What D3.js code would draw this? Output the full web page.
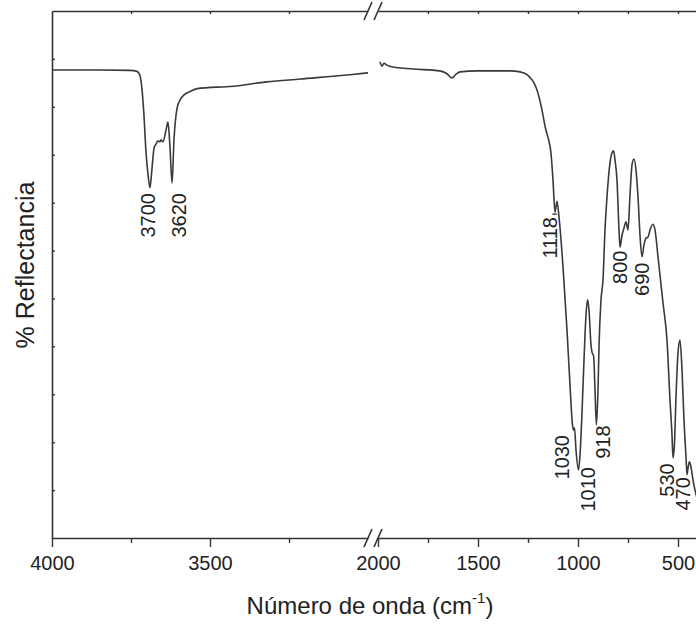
<!DOCTYPE html>
<html><head><meta charset="utf-8">
<script src="https://cdn.jsdelivr.net/npm/d3@7"></script>
<style>body{margin:0;background:#fff;} svg{display:block;font-family:"Liberation Sans",Arial,sans-serif;}</style>
</head><body><svg id="c" width="696" height="626"></svg>
<script>
// Spectrum, left segment (4000-3000 cm-1)
const leftWn  = [4000,3848,3753,3731,3722,3715,3709,3703,3696,3690,3684,3677,3671,3665,3658,3655,3649,3639,3633,3627,3620,3614,3604,3595,3582,3563,3541,3427,3320,3215,3057,3000];
const leftVal = [97.7,97.7,97.6,97.4,96.6,93.5,88.3,81.0,75.8,73.1,76.8,81.4,82.2,82.9,82.7,83.1,82.7,85.2,86.8,82.0,74.1,83.1,89.8,91.4,92.5,93.2,93.8,94.3,95.2,95.8,96.7,97.1];
// Spectrum, right segment (2000-400 cm-1)
const rightWn  = [1990,1980,1970,1955,1925,1825,1690,1655,1630,1610,1590,1505,1340,1290,1255,1240,1220,1205,1180,1165,1158,1148,1135,1125,1115,1105,1095,1075,1055,1040,1027.5,1022.5,1017.5,1010,997.5,990,980,970,960,952,945,935,930,922,915,908,900,895,885,875,865,855,840,830,822,815,805,795,790,780,770,760,750,740,730,720,710,700,690,680,670,660,650,640,625,615,600,575,555,540,530,525,518,510,500,490,480,470,460,455,450,443,435,425,415,405];
const rightVal = [99.4,98.5,99.1,98.7,98.3,97.9,97.5,96.9,96.0,96.8,97.3,97.5,97.5,97.3,96.7,96.1,95.0,93.5,89.3,86.0,84.8,83.3,80.3,74.7,68.0,70.3,67.0,56.6,43.4,31.9,23.6,22.5,23.0,18.4,14.2,17.3,26.1,37.2,46.5,49.7,47.6,40.3,38.8,38.0,30.9,23.6,30.9,39.9,49.7,53.9,64.3,71.2,78.3,80.4,80.8,78.9,74.7,64.3,60.7,63.2,64.7,66.0,64.3,71.6,77.9,79.1,76.8,71.2,63.2,58.7,61.2,62.6,62.8,64.3,65.5,64.3,58.7,49.1,41.3,28.8,21.5,16.7,19.4,29.4,38.6,41.3,35.1,24.6,16.9,13.2,14.6,15.9,14.8,12.1,10.0,8.3];

const leftMajor = [4000,3500], leftMinor = [3750,3250];
const rightMajor = [2000,1500,1000,500], rightMinor = [1750,1250,750];
const yTicks = [10,20,30,40,50,60,70,80,90,100];

const peakLabels = ["3700","3620","1118","800","690","1030","1010","918","530","470"];
const peakLabelWn = [3695,3597,1140,790,682,1080,952,877,555,475];
const peakLabelVal = [72.0,72.0,67.0,60.0,57.5,21.5,14.8,23.5,15.6,12.7];

const svg = d3.select("#c");
const ink = "#333";
const xL = d3.scaleLinear().domain([4000,3000]).range([52,368]);
const xR = d3.scaleLinear().domain([2000,400]).range([378,698]);
const y = d3.scaleLinear().domain([0,110]).range([538,11]);
const xOf = w => w >= 2500 ? xL(w) : xR(w);
const fmt = d3.format("d");

function styleAxis(g){
  g.selectAll("path.domain").attr("stroke", ink).attr("stroke-width", 1.6);
  g.selectAll(".tick line").attr("stroke", ink).attr("stroke-width", 1.4);
  g.selectAll(".tick text").attr("font-size", 20).attr("fill", "#222").attr("font-family", "Liberation Sans, Arial, sans-serif");
}
// bottom axes
[[xL,leftMajor,leftMinor],[xR,rightMajor,rightMinor]].forEach(([sc,maj,min])=>{
  const g = svg.append("g").attr("transform","translate(0,538)")
    .call(d3.axisBottom(sc).tickValues(maj).tickFormat(fmt).tickSize(9).tickPadding(9).tickSizeOuter(0));
  styleAxis(g);
  const gm = svg.append("g").attr("transform","translate(0,538)")
    .call(d3.axisBottom(sc).tickValues(min).tickSize(5).tickFormat(""));
  gm.select("path.domain").remove();
  styleAxis(gm);
  const gt = svg.append("g").attr("transform","translate(0,11)")
    .call(d3.axisBottom(sc).tickValues(maj.concat(min).filter(v=>v!==4000 && v!==2000)).tickSize(3).tickFormat("").tickSizeOuter(0));
  styleAxis(gt);
});
// left axis
const gl = svg.append("g").attr("transform","translate(52,0)")
  .call(d3.axisRight(y).tickValues(yTicks).tickSize(3).tickFormat("").tickSizeOuter(0));
styleAxis(gl);

// break marks
[11,538].forEach(yy=>{
  [368,378].forEach(cx=>{
    svg.append("line").attr("x1",cx-4).attr("y1",yy+9).attr("x2",cx+4).attr("y2",yy-9)
      .attr("stroke",ink).attr("stroke-width",1.6);
  });
});

// spectrum
const line = d3.line().x(d=>d[0]).y(d=>y(d[1])).curve(d3.curveMonotoneX);
const leftPts = leftWn.map((w,i)=>[xL(w), leftVal[i]]);
const rightPts = rightWn.map((w,i)=>[xR(w), rightVal[i]]);
[leftPts, rightPts].forEach(p=>{
  svg.append("path").attr("d", line(p)).attr("fill","none").attr("stroke","#3a3a3a").attr("stroke-width",1.6);
});

// peak labels
peakLabels.forEach((t,i)=>{
  svg.append("text")
    .attr("transform",`translate(${xOf(peakLabelWn[i])},${y(peakLabelVal[i])}) rotate(-90)`)
    .attr("text-anchor","end").attr("dy","0.35em")
    .attr("font-size",20).attr("fill","#222").text(t);
});
// leader for 1118
svg.append("line").attr("x1",xR(1128)).attr("x2",xR(1106)).attr("y1",y(67.6)).attr("y2",y(67.6))
  .attr("stroke",ink).attr("stroke-width",1.4);

// axis titles
const xt = svg.append("text").attr("x",370).attr("y",614).attr("text-anchor","middle")
  .attr("font-size",24).attr("fill","#222");
xt.append("tspan").text("Número de onda (cm");
xt.append("tspan").attr("font-size",15).attr("dy",-11).text("-1");
xt.append("tspan").attr("dy",11).text(")");

svg.append("text").attr("transform","translate(34,265) rotate(-90)")
  .attr("text-anchor","middle").attr("font-size",25).attr("fill","#222").text("% Reflectancia");
</script></body></html>
